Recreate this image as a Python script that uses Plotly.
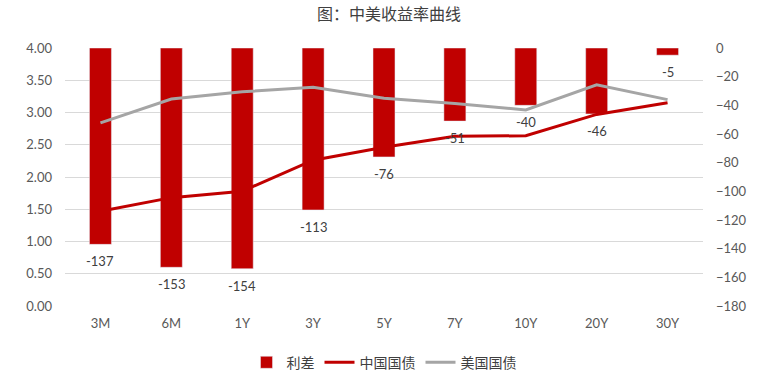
import plotly.graph_objects as go

categories = ["3M", "6M", "1Y", "3Y", "5Y", "7Y", "10Y", "20Y", "30Y"]
spread = [-137, -153, -154, -113, -76, -51, -40, -46, -5]
china = [1.47, 1.68, 1.78, 2.26, 2.46, 2.63, 2.64, 2.97, 3.15]
us = [2.84, 3.21, 3.32, 3.39, 3.22, 3.14, 3.04, 3.43, 3.20]

FONT = "Lato, 'Noto Sans CJK SC', sans-serif"
CJK = "'Noto Sans CJK SC', sans-serif"
RED = "#C00000"
GRAY = "#A5A5A5"
TICK = "#595959"

fig = go.Figure()
fig.add_trace(go.Bar(
    x=categories, y=spread, name="利差", marker_color=RED,
    width=0.31, yaxis="y",
))
fig.add_trace(go.Scatter(
    x=categories, y=china, name="中国国债", mode="lines",
    line=dict(color=RED, width=3), yaxis="y2",
))
fig.add_trace(go.Scatter(
    x=categories, y=us, name="美国国债", mode="lines",
    line=dict(color=GRAY, width=3), yaxis="y2",
))

for c, v in zip(categories, spread):
    fig.add_annotation(x=c, y=v, xref="x", yref="y", text=str(v), showarrow=False,
                       yshift=-17, font=dict(size=13, color="#404040", family=FONT))

fig.update_layout(
    width=778, height=389,
    margin=dict(l=65, r=75, t=48, b=82),
    paper_bgcolor="white", plot_bgcolor="white",
    font=dict(family=FONT, size=13, color=TICK),
    title=dict(text="图：中美收益率曲线", x=0.5, xanchor="center", y=0.962, yanchor="middle",
               font=dict(size=16, color="#404040", family=CJK)),
    showlegend=True,
    legend=dict(orientation="h", x=0.5, xanchor="center", y=-0.215, yanchor="middle",
                font=dict(size=14, color="#404040", family=CJK),
                itemwidth=30, traceorder="normal"),
    xaxis=dict(type="category", showgrid=False, showline=False, ticks="",
               tickfont=dict(size=13, color=TICK), range=[-0.5, 8.5],
               ticklabelstandoff=8, automargin=False),
    yaxis=dict(side="right", range=[-180, 0], dtick=20, showgrid=False, zeroline=False,
               tickfont=dict(size=13, color=TICK), ticklabelstandoff=12, automargin=False),
    yaxis2=dict(overlaying="y", side="left", range=[0, 4], dtick=0.5, tickformat=".2f",
                showgrid=True, gridcolor="#D9D9D9", gridwidth=1, zeroline=False,
                tickfont=dict(size=13, color=TICK), ticklabelstandoff=12, automargin=False),
)

fig.write_html("out.html", config={"displayModeBar": False},
               post_script="document.body.style.margin='0';document.body.style.overflow='hidden';")
